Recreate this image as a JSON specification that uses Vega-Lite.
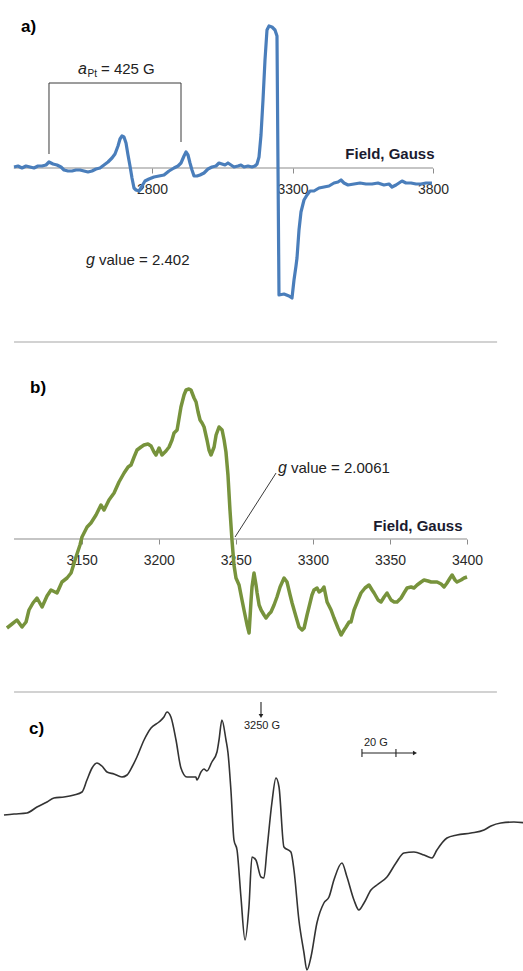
{
  "$schema": "https://vega.github.io/schema/vega-lite/v6.json",
  "padding": 0,
  "spacing": 0,
  "bounds": "flush",
  "config": {"view": {"stroke": null}, "font": "Liberation Sans"},
  "vconcat": [
    {
      "width": 523,
      "height": 342,
      "encoding": {
        "x": {
          "field": "G", "type": "quantitative", "scale": {"domain": [2273.3, 4134.5]},
          "axis": {
            "title": "Field, Gauss", "values": [2800, 3300, 3800], "format": "d", "domain": false, "grid": false,
            "offset": -174, "tickSize": 5, "tickColor": "#8c8c8c", "tickWidth": 1,
            "labelFontSize": 14, "labelColor": "#2a2a2a", "labelPadding": 9, "labelFont": "Liberation Sans",
            "titleFontSize": 15, "titleFontWeight": "bold", "titleColor": "#1b1b2f", "titleFont": "Liberation Sans",
            "titleX": 430, "titleY": -15, "titleAlign": "right", "titleBaseline": "middle"
          }
        },
        "y": {"field": "v", "type": "quantitative", "scale": {"domain": [-174, 168]}, "axis": null}
      },
      "layer": [
        {
          "data": {"values": [{"G": 2308, "v": 0, "G2": 3800, "v2": 0}]},
          "mark": {"type": "rule", "color": "#8c8c8c", "strokeWidth": 1.2},
          "encoding": {"x2": {"field": "G2"}, "y2": {"field": "v2"}}
        },
        {
          "data": {"values": [
            {"G": 2433.4, "v": 85, "G2": 2903.2, "v2": 85},
            {"G": 2433.4, "v": 85, "G2": 2433.4, "v2": 14},
            {"G": 2903.2, "v": 85, "G2": 2903.2, "v2": 26}
          ]},
          "mark": {"type": "rule", "color": "#3a3a3a", "strokeWidth": 1},
          "encoding": {"x2": {"field": "G2"}, "y2": {"field": "v2"}}
        },
        {
          "data": {"values": [
            {"G": 2308.9, "v": 1}, {"G": 2323.1, "v": 2}, {"G": 2337.4, "v": 0}, {"G": 2351.6, "v": 2},
            {"G": 2365.8, "v": 1}, {"G": 2380.1, "v": 0}, {"G": 2394.3, "v": 2}, {"G": 2408.5, "v": 2},
            {"G": 2422.8, "v": 3}, {"G": 2433.4, "v": 6}, {"G": 2447.7, "v": 4}, {"G": 2461.9, "v": 3},
            {"G": 2476.1, "v": 1}, {"G": 2486.8, "v": -2}, {"G": 2501.1, "v": -3}, {"G": 2515.3, "v": -3},
            {"G": 2529.5, "v": -2}, {"G": 2543.8, "v": -2}, {"G": 2558.0, "v": -3}, {"G": 2572.2, "v": -4},
            {"G": 2586.5, "v": -3}, {"G": 2600.7, "v": -1}, {"G": 2614.9, "v": 0}, {"G": 2629.2, "v": 3},
            {"G": 2643.4, "v": 6}, {"G": 2657.6, "v": 10}, {"G": 2668.3, "v": 14}, {"G": 2679.0, "v": 22},
            {"G": 2686.1, "v": 29}, {"G": 2693.2, "v": 32}, {"G": 2700.3, "v": 31}, {"G": 2707.5, "v": 25},
            {"G": 2714.6, "v": 13}, {"G": 2721.7, "v": 2}, {"G": 2728.8, "v": -10}, {"G": 2735.9, "v": -20},
            {"G": 2743.0, "v": -22}, {"G": 2753.7, "v": -23}, {"G": 2764.4, "v": -18}, {"G": 2775.1, "v": -13},
            {"G": 2789.3, "v": -11}, {"G": 2807.1, "v": -9}, {"G": 2824.9, "v": -8}, {"G": 2842.7, "v": -7},
            {"G": 2860.5, "v": -3}, {"G": 2878.3, "v": 0}, {"G": 2892.5, "v": 2}, {"G": 2903.2, "v": 5},
            {"G": 2913.9, "v": 12}, {"G": 2921.0, "v": 16}, {"G": 2928.1, "v": 13}, {"G": 2935.2, "v": 5},
            {"G": 2942.3, "v": -2}, {"G": 2949.5, "v": -8}, {"G": 2960.1, "v": -8}, {"G": 2970.8, "v": -7},
            {"G": 2985.0, "v": -5}, {"G": 2999.3, "v": -1}, {"G": 3013.5, "v": 1}, {"G": 3027.7, "v": 2},
            {"G": 3038.4, "v": 5}, {"G": 3049.1, "v": 4}, {"G": 3059.8, "v": 3}, {"G": 3070.4, "v": 5},
            {"G": 3081.1, "v": 3}, {"G": 3091.8, "v": 1}, {"G": 3106.0, "v": 2}, {"G": 3116.7, "v": 3},
            {"G": 3127.4, "v": 1}, {"G": 3141.6, "v": 2}, {"G": 3155.9, "v": 1}, {"G": 3166.5, "v": 2},
            {"G": 3173.7, "v": 4}, {"G": 3180.8, "v": 11}, {"G": 3187.9, "v": 33}, {"G": 3195.0, "v": 68},
            {"G": 3202.1, "v": 108}, {"G": 3209.2, "v": 138}, {"G": 3216.4, "v": 142}, {"G": 3227.0, "v": 141},
            {"G": 3237.7, "v": 138}, {"G": 3244.8, "v": 132}, {"G": 3248.4, "v": 1}, {"G": 3251.9, "v": -127},
            {"G": 3269.7, "v": -126}, {"G": 3287.5, "v": -128}, {"G": 3298.2, "v": -130}, {"G": 3305.3, "v": -112},
            {"G": 3312.4, "v": -98}, {"G": 3316.0, "v": -90}, {"G": 3323.1, "v": -62}, {"G": 3330.2, "v": -44},
            {"G": 3340.9, "v": -32}, {"G": 3351.6, "v": -27}, {"G": 3362.3, "v": -23}, {"G": 3376.5, "v": -23},
            {"G": 3394.3, "v": -20}, {"G": 3412.1, "v": -19}, {"G": 3429.9, "v": -18}, {"G": 3447.7, "v": -15},
            {"G": 3461.9, "v": -14}, {"G": 3472.6, "v": -12}, {"G": 3483.3, "v": -15}, {"G": 3497.5, "v": -17},
            {"G": 3518.8, "v": -16}, {"G": 3540.2, "v": -15}, {"G": 3561.5, "v": -16}, {"G": 3582.9, "v": -16},
            {"G": 3604.2, "v": -15}, {"G": 3625.6, "v": -17}, {"G": 3643.4, "v": -16}, {"G": 3654.1, "v": -19},
            {"G": 3668.3, "v": -17}, {"G": 3689.7, "v": -13}, {"G": 3703.9, "v": -15}, {"G": 3721.7, "v": -15},
            {"G": 3739.5, "v": -16}, {"G": 3757.3, "v": -16}, {"G": 3775.1, "v": -15}, {"G": 3796.4, "v": -15}
          ]},
          "mark": {"type": "line", "color": "#4a7ebb", "strokeWidth": 3.2, "strokeJoin": "round"}
        },
        {
          "data": {"values": [{"G": 2333.8, "v": 141, "label": "a)"}]},
          "mark": {"type": "text", "align": "left", "baseline": "middle", "fontSize": 17, "fontWeight": "bold", "color": "#000000"},
          "encoding": {"text": {"field": "label"}}
        },
        {
          "data": {"values": [{"G": 2536.6, "v": 99, "label": "a"}, {"G": 2565.1, "v": -92, "label": "g"}]},
          "mark": {"type": "text", "align": "left", "baseline": "middle", "fontSize": 16, "fontStyle": "italic", "color": "#222222"},
          "encoding": {"text": {"field": "label"}}
        },
        {
          "data": {"values": [{"G": 2570.5, "v": 94, "label": "Pt"}]},
          "mark": {"type": "text", "align": "left", "baseline": "middle", "fontSize": 10, "color": "#222222"},
          "encoding": {"text": {"field": "label"}}
        },
        {
          "data": {"values": [{"G": 2618.5, "v": 99, "label": "= 425 G"}, {"G": 2611.4, "v": -92, "label": "value = 2.402"}]},
          "mark": {"type": "text", "align": "left", "baseline": "middle", "fontSize": 15, "color": "#222222"},
          "encoding": {"text": {"field": "label"}}
        }
      ]
    },
    {
      "width": 523,
      "height": 350,
      "encoding": {
        "x": {
          "field": "G", "type": "quantitative", "scale": {"domain": [3099.6, 3438.9]},
          "axis": {
            "title": "Field, Gauss", "values": [3150, 3200, 3250, 3300, 3350, 3400], "format": "d", "domain": false, "grid": false,
            "offset": -153, "tickSize": 5, "tickColor": "#8c8c8c", "tickWidth": 1,
            "labelFontSize": 14, "labelColor": "#2a2a2a", "labelPadding": 9, "labelFont": "Liberation Sans",
            "titleFontSize": 15, "titleFontWeight": "bold", "titleColor": "#1b1b2f", "titleFont": "Liberation Sans",
            "titleX": 458, "titleY": -14, "titleAlign": "right", "titleBaseline": "middle"
          }
        },
        "y": {"field": "v", "type": "quantitative", "scale": {"domain": [-153, 197]}, "axis": null}
      },
      "layer": [
        {
          "data": {"values": [{"G": 3106.1, "v": 197, "G2": 3419.5, "v2": 197}]},
          "mark": {"type": "rule", "color": "#a6a6a6", "strokeWidth": 1.2},
          "encoding": {"x2": {"field": "G2"}, "y2": {"field": "v2"}}
        },
        {
          "data": {"values": [{"G": 3106.1, "v": 0, "G2": 3400, "v2": 0}]},
          "mark": {"type": "rule", "color": "#8c8c8c", "strokeWidth": 1.2},
          "encoding": {"x2": {"field": "G2"}, "y2": {"field": "v2"}}
        },
        {
          "data": {"values": [{"G": 3249.5, "v": 2, "G2": 3276.1, "v2": 66}]},
          "mark": {"type": "rule", "color": "#3a3a3a", "strokeWidth": 1},
          "encoding": {"x2": {"field": "G2"}, "y2": {"field": "v2"}}
        },
        {
          "data": {"values": [
            {"G": 3101.5, "v": -89}, {"G": 3104.8, "v": -85}, {"G": 3108.0, "v": -81}, {"G": 3111.3, "v": -88},
            {"G": 3113.9, "v": -83}, {"G": 3115.8, "v": -71}, {"G": 3118.4, "v": -64}, {"G": 3121.0, "v": -59},
            {"G": 3124.3, "v": -68}, {"G": 3127.5, "v": -57}, {"G": 3130.1, "v": -51}, {"G": 3134.0, "v": -54},
            {"G": 3137.2, "v": -43}, {"G": 3140.5, "v": -39}, {"G": 3143.1, "v": -34}, {"G": 3146.3, "v": -18},
            {"G": 3148.9, "v": -6}, {"G": 3150.2, "v": 2}, {"G": 3153.5, "v": 12}, {"G": 3156.0, "v": 16},
            {"G": 3159.3, "v": 24}, {"G": 3162.5, "v": 34}, {"G": 3164.5, "v": 29}, {"G": 3167.7, "v": 39},
            {"G": 3171.0, "v": 46}, {"G": 3174.2, "v": 57}, {"G": 3177.5, "v": 66}, {"G": 3180.1, "v": 72},
            {"G": 3182.0, "v": 74}, {"G": 3184.0, "v": 82}, {"G": 3185.9, "v": 89}, {"G": 3188.5, "v": 92},
            {"G": 3190.4, "v": 94}, {"G": 3193.0, "v": 95}, {"G": 3195.0, "v": 93}, {"G": 3196.9, "v": 87},
            {"G": 3198.2, "v": 84}, {"G": 3200.2, "v": 91}, {"G": 3202.1, "v": 84}, {"G": 3204.7, "v": 88},
            {"G": 3206.7, "v": 92}, {"G": 3208.6, "v": 99}, {"G": 3209.9, "v": 106}, {"G": 3211.9, "v": 109},
            {"G": 3213.2, "v": 121}, {"G": 3214.4, "v": 132}, {"G": 3216.4, "v": 144}, {"G": 3217.7, "v": 149},
            {"G": 3219.6, "v": 150}, {"G": 3220.9, "v": 149}, {"G": 3222.9, "v": 141}, {"G": 3224.2, "v": 137},
            {"G": 3225.5, "v": 127}, {"G": 3226.8, "v": 119}, {"G": 3228.1, "v": 116}, {"G": 3229.4, "v": 112},
            {"G": 3231.3, "v": 99}, {"G": 3232.6, "v": 89}, {"G": 3233.9, "v": 84}, {"G": 3235.9, "v": 92},
            {"G": 3237.2, "v": 104}, {"G": 3239.1, "v": 112}, {"G": 3241.1, "v": 109}, {"G": 3242.4, "v": 99},
            {"G": 3243.6, "v": 87}, {"G": 3244.9, "v": 64}, {"G": 3246.2, "v": 29}, {"G": 3247.5, "v": -1},
            {"G": 3248.8, "v": -26}, {"G": 3250.1, "v": -39}, {"G": 3252.1, "v": -46}, {"G": 3254.0, "v": -61},
            {"G": 3255.3, "v": -71}, {"G": 3257.3, "v": -86}, {"G": 3258.6, "v": -94}, {"G": 3259.9, "v": -61},
            {"G": 3260.5, "v": -48}, {"G": 3261.8, "v": -34}, {"G": 3263.1, "v": -46}, {"G": 3263.8, "v": -54},
            {"G": 3265.1, "v": -66}, {"G": 3266.4, "v": -71}, {"G": 3268.3, "v": -76}, {"G": 3269.6, "v": -79},
            {"G": 3271.5, "v": -75}, {"G": 3272.8, "v": -73}, {"G": 3274.8, "v": -66}, {"G": 3276.7, "v": -58},
            {"G": 3278.7, "v": -48}, {"G": 3281.3, "v": -39}, {"G": 3283.2, "v": -43}, {"G": 3285.2, "v": -56},
            {"G": 3286.5, "v": -64}, {"G": 3289.1, "v": -78}, {"G": 3291.0, "v": -88}, {"G": 3293.0, "v": -91},
            {"G": 3294.3, "v": -89}, {"G": 3296.2, "v": -76}, {"G": 3297.5, "v": -68}, {"G": 3299.4, "v": -56},
            {"G": 3300.7, "v": -51}, {"G": 3302.7, "v": -49}, {"G": 3304.0, "v": -53}, {"G": 3305.9, "v": -51},
            {"G": 3307.2, "v": -48}, {"G": 3309.2, "v": -63}, {"G": 3311.8, "v": -71}, {"G": 3313.7, "v": -79},
            {"G": 3316.3, "v": -89}, {"G": 3318.3, "v": -96}, {"G": 3320.2, "v": -91}, {"G": 3321.5, "v": -88},
            {"G": 3323.5, "v": -83}, {"G": 3324.7, "v": -83}, {"G": 3326.7, "v": -71}, {"G": 3329.3, "v": -61},
            {"G": 3331.2, "v": -54}, {"G": 3333.8, "v": -49}, {"G": 3336.4, "v": -46}, {"G": 3338.4, "v": -51},
            {"G": 3339.7, "v": -54}, {"G": 3342.3, "v": -61}, {"G": 3344.2, "v": -63}, {"G": 3346.2, "v": -58},
            {"G": 3348.1, "v": -54}, {"G": 3350.7, "v": -61}, {"G": 3352.7, "v": -63}, {"G": 3354.6, "v": -63},
            {"G": 3357.2, "v": -59}, {"G": 3359.1, "v": -54}, {"G": 3361.1, "v": -49}, {"G": 3363.7, "v": -48},
            {"G": 3365.6, "v": -49}, {"G": 3367.6, "v": -46}, {"G": 3370.2, "v": -43}, {"G": 3372.1, "v": -41},
            {"G": 3374.7, "v": -42}, {"G": 3376.7, "v": -43}, {"G": 3378.6, "v": -43}, {"G": 3380.6, "v": -43},
            {"G": 3383.2, "v": -45}, {"G": 3385.1, "v": -48}, {"G": 3387.0, "v": -44}, {"G": 3389.0, "v": -39},
            {"G": 3390.3, "v": -36}, {"G": 3392.2, "v": -41}, {"G": 3393.5, "v": -43}, {"G": 3396.1, "v": -41},
            {"G": 3398.1, "v": -39}, {"G": 3400.0, "v": -38}
          ]},
          "mark": {"type": "line", "color": "#77933c", "strokeWidth": 3.5, "strokeJoin": "round"}
        },
        {
          "data": {"values": [{"G": 3116.5, "v": 151, "label": "b)"}]},
          "mark": {"type": "text", "align": "left", "baseline": "middle", "fontSize": 17, "fontWeight": "bold", "color": "#000000"},
          "encoding": {"text": {"field": "label"}}
        },
        {
          "data": {"values": [{"G": 3277.4, "v": 71, "label": "g"}]},
          "mark": {"type": "text", "align": "left", "baseline": "middle", "fontSize": 16, "fontStyle": "italic", "color": "#222222"},
          "encoding": {"text": {"field": "label"}}
        },
        {
          "data": {"values": [{"G": 3285.8, "v": 71, "label": "value = 2.0061"}]},
          "mark": {"type": "text", "align": "left", "baseline": "middle", "fontSize": 15, "color": "#222222"},
          "encoding": {"text": {"field": "label"}}
        }
      ]
    },
    {
      "width": 523,
      "height": 279,
      "encoding": {
        "x": {"field": "G", "type": "quantitative", "scale": {"domain": [3098.8, 3406.5]}, "axis": null},
        "y": {"field": "v", "type": "quantitative", "scale": {"domain": [-279, 0]}, "axis": null}
      },
      "layer": [
        {
          "data": {"values": [{"G": 3104.7, "v": 0, "G2": 3388.8, "v2": 0}]},
          "mark": {"type": "rule", "strokeWidth": 1.2, "color": "#a6a6a6"},
          "encoding": {"x2": {"field": "G2"}, "y2": {"field": "v2"}}
        },
        {
          "data": {"values": [
            {"G": 3250.0, "v": -10, "G2": 3250.0, "v2": -22},
            {"G": 3309.4, "v": -61, "G2": 3340.0, "v2": -61},
            {"G": 3309.4, "v": -57, "G2": 3309.4, "v2": -65},
            {"G": 3329.4, "v": -57, "G2": 3329.4, "v2": -65}
          ]},
          "mark": {"type": "rule", "strokeWidth": 1.1, "color": "#222222"},
          "encoding": {"x2": {"field": "G2"}, "y2": {"field": "v2"}}
        },
        {
          "data": {"values": [
            {"G": 3098.8, "v": -123}, {"G": 3104.7, "v": -122}, {"G": 3112.3, "v": -121}, {"G": 3118.2, "v": -115},
            {"G": 3124.1, "v": -110}, {"G": 3128.2, "v": -106}, {"G": 3134.1, "v": -105}, {"G": 3140.0, "v": -103},
            {"G": 3144.7, "v": -100}, {"G": 3147.6, "v": -88}, {"G": 3150.6, "v": -76}, {"G": 3153.5, "v": -71},
            {"G": 3156.4, "v": -74}, {"G": 3159.4, "v": -80}, {"G": 3163.5, "v": -82}, {"G": 3168.2, "v": -85},
            {"G": 3171.2, "v": -83}, {"G": 3174.1, "v": -75}, {"G": 3177.0, "v": -65}, {"G": 3181.2, "v": -48},
            {"G": 3185.3, "v": -36}, {"G": 3190.0, "v": -30}, {"G": 3192.9, "v": -25}, {"G": 3194.7, "v": -20},
            {"G": 3197.0, "v": -25}, {"G": 3200.0, "v": -48}, {"G": 3202.9, "v": -76}, {"G": 3206.4, "v": -85},
            {"G": 3211.7, "v": -85}, {"G": 3212.3, "v": -88}, {"G": 3214.7, "v": -80}, {"G": 3216.4, "v": -77},
            {"G": 3218.2, "v": -79}, {"G": 3221.1, "v": -70}, {"G": 3224.1, "v": -60}, {"G": 3225.3, "v": -48},
            {"G": 3227.0, "v": -28}, {"G": 3229.4, "v": -48}, {"G": 3230.6, "v": -61}, {"G": 3232.3, "v": -98},
            {"G": 3234.1, "v": -148}, {"G": 3235.9, "v": -158}, {"G": 3238.2, "v": -205}, {"G": 3240.6, "v": -248},
            {"G": 3242.9, "v": -215}, {"G": 3244.7, "v": -165}, {"G": 3247.0, "v": -168}, {"G": 3250.0, "v": -185},
            {"G": 3251.7, "v": -186}, {"G": 3253.5, "v": -158}, {"G": 3256.4, "v": -111}, {"G": 3258.8, "v": -86},
            {"G": 3260.6, "v": -95}, {"G": 3263.5, "v": -155}, {"G": 3267.6, "v": -160}, {"G": 3269.4, "v": -178},
            {"G": 3272.3, "v": -228}, {"G": 3275.3, "v": -261}, {"G": 3277.0, "v": -278}, {"G": 3279.4, "v": -265},
            {"G": 3282.9, "v": -231}, {"G": 3287.0, "v": -211}, {"G": 3290.0, "v": -205}, {"G": 3292.9, "v": -188},
            {"G": 3297.6, "v": -171}, {"G": 3300.6, "v": -185}, {"G": 3304.7, "v": -208}, {"G": 3307.6, "v": -218},
            {"G": 3310.6, "v": -211}, {"G": 3314.7, "v": -198}, {"G": 3318.2, "v": -193}, {"G": 3324.1, "v": -185},
            {"G": 3329.4, "v": -171}, {"G": 3334.1, "v": -161}, {"G": 3340.0, "v": -160}, {"G": 3345.9, "v": -163},
            {"G": 3350.6, "v": -166}, {"G": 3353.5, "v": -158}, {"G": 3359.4, "v": -146}, {"G": 3365.3, "v": -143},
            {"G": 3373.5, "v": -141}, {"G": 3381.2, "v": -138}, {"G": 3385.3, "v": -134}, {"G": 3391.1, "v": -131},
            {"G": 3398.8, "v": -130}, {"G": 3405.9, "v": -131}
          ]},
          "mark": {"type": "line", "color": "#333333", "strokeWidth": 1.6, "interpolate": "monotone"}
        },
        {
          "data": {"values": [{"G": 3250.0, "v": -24, "shape": "triangle-down"}, {"G": 3340.6, "v": -61, "shape": "triangle-right"}]},
          "mark": {"type": "point", "filled": true, "size": 22, "color": "#222222", "opacity": 1},
          "encoding": {"shape": {"field": "shape", "type": "nominal", "scale": null}}
        },
        {
          "data": {"values": [{"G": 3113.5, "v": -37, "label": "c)"}]},
          "mark": {"type": "text", "align": "left", "baseline": "middle", "fontSize": 17, "fontWeight": "bold", "color": "#000000"},
          "encoding": {"text": {"field": "label"}}
        },
        {
          "data": {"values": [{"G": 3250.6, "v": -34, "label": "3250 G"}, {"G": 3317.6, "v": -51, "label": "20 G"}]},
          "mark": {"type": "text", "align": "center", "baseline": "middle", "fontSize": 11, "color": "#222222"},
          "encoding": {"text": {"field": "label"}}
        }
      ]
    }
  ]
}
